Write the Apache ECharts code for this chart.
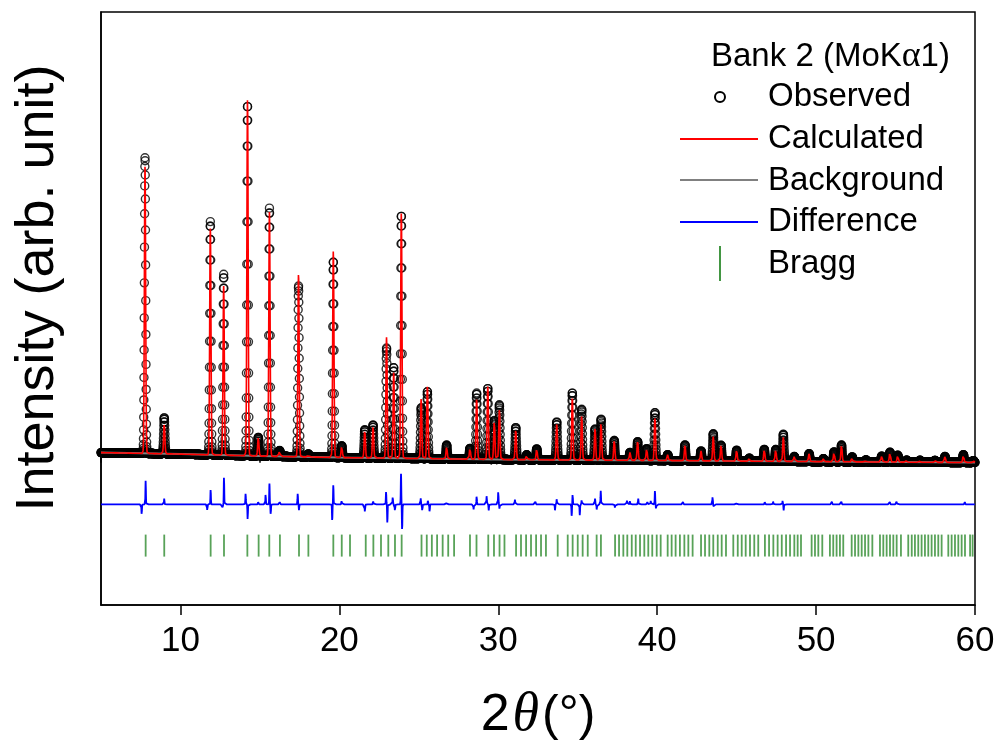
<!DOCTYPE html>
<html><head><meta charset="utf-8">
<script src="https://cdn.jsdelivr.net/npm/echarts@6/dist/echarts.min.js"></script>
<style>html,body{margin:0;padding:0;background:#fff}#c{width:1003px;height:749px}</style>
</head><body><div id="c"></div>
<script>
// ---- data ----
const peakPos  = [7.77,8.98,11.88,12.72,14.22,14.90,15.60,16.24,17.43,18.05,19.62,20.15,21.60,22.12,22.97,23.42,23.90,25.15,25.54,26.75,28.22,28.64,29.34,29.75,30.07,31.10,31.79,32.42,33.68,34.66,35.25,36.09,36.47,37.30,38.29,38.77,39.34,39.86,40.66,41.75,42.76,43.53,44.02,45.00,45.80,46.74,47.46,47.94,48.63,49.56,50.46,51.13,51.60,52.27,53.14,54.13,54.65,55.14,55.70,56.54,57.48,58.11,59.27,59.90];
const peakObs  = [2995,365,2360,1830,3550,190,2510,60,1730,30,1985,120,285,335,1115,920,2460,515,680,140,110,670,720,395,555,325,50,110,385,680,515,315,415,200,80,190,120,485,60,160,100,275,160,110,30,120,120,275,50,80,30,100,170,50,20,60,100,70,20,20,20,60,80,20];
const peakCalc = [2905,305,2290,1710,3615,190,2470,60,1860,30,2095,120,285,335,1225,870,2490,610,730,120,110,615,740,395,505,305,50,110,365,625,455,325,385,200,80,190,120,445,60,160,100,245,160,110,30,120,120,245,50,80,30,100,170,50,20,60,100,70,20,20,20,60,80,20];
const bgX = [5,10,15,20,25,30,40,50,60];
const bgY = [42,27,7,-8,-18,-28,-38,-49,-59];
const diffOffset = -482;
const diffPos = [7.56,7.81,8.98,11.69,11.90,12.66,12.74,14.10,14.23,14.90,15.36,15.60,15.68,16.26,17.38,17.46,19.55,19.62,20.15,21.61,22.14,22.94,23.02,23.36,23.50,23.88,23.95,25.12,25.22,25.58,25.68,26.75,28.45,28.64,29.27,29.40,30.00,30.08,31.05,32.35,33.57,33.68,34.62,34.68,35.13,35.25,36.09,36.20,36.45,37.35,38.10,38.29,38.81,39.40,39.60,39.86,39.93,41.64,43.49,43.55,45.00,46.78,47.30,47.90,47.96,51.00,51.60,54.65,55.07,59.37];
const diffAmp = [-110,240,60,-70,150,-40,280,110,-160,30,110,210,-110,30,110,-60,-170,200,50,-90,40,130,-190,80,-80,310,-270,60,-80,50,-80,30,-50,90,90,-60,140,-50,50,40,-60,60,-120,110,-110,50,60,-60,140,-50,40,40,60,40,40,140,-50,40,90,-30,30,30,30,50,-60,30,30,30,30,30];
const braggLevel = -899;
const braggPos = [7.81,8.98,11.90,12.74,14.21,14.92,15.59,16.26,17.46,18.05,19.62,20.15,20.67,21.66,22.14,22.62,23.08,23.50,23.92,
25.17,25.50,25.82,26.15,26.50,26.85,27.22,28.22,28.63,29.37,29.73,30.08,30.39,31.12,31.43,31.75,32.06,32.38,32.69,33.00,33.74,
34.37,34.68,35.00,35.31,35.63,36.19,36.46,37.35,37.60,37.87,38.12,38.40,38.65,38.92,39.19,39.44,39.69,39.97,40.22,
40.66,40.91,41.16,41.43,41.71,41.96,42.23,42.76,43.01,43.28,43.53,43.81,44.06,44.33,44.79,45.07,45.32,45.57,45.84,46.11,46.36,
46.78,47.04,47.31,47.58,47.84,48.11,48.36,48.63,48.84,49.05,49.72,49.93,50.14,50.39,50.87,51.08,51.29,51.50,51.71,
52.24,52.45,52.66,52.87,53.08,53.29,53.54,54.02,54.23,54.44,54.65,54.86,55.07,55.34,55.80,56.02,56.22,56.43,56.64,56.85,57.06,57.27,57.48,57.69,57.90,
58.32,58.53,58.74,58.95,59.16,59.37,59.69,59.85];
const majorTicks = [10,20,30,40,50,60];
const minorTicks = [5,15,25,35,45,55];

// ---- build profiles from the peak table ----
const STEP = 0.008, SIG = 0.04, DSIG = 0.015;
function bgAt(x){
  for (let i=0;i<bgX.length-1;i++){
    if (x<=bgX[i+1]) { const t=(x-bgX[i])/(bgX[i+1]-bgX[i]); return bgY[i]+t*(bgY[i+1]-bgY[i]); }
  }
  return bgY[bgY.length-1];
}
const obsData=[], calcData=[], diffData=[];
for (let k=0; ; k++){
  const x = 5 + k*STEP; if (x>60.0001) break;
  let o=bgAt(x), c=o, d=diffOffset;
  for (let i=0;i<peakPos.length;i++){
    const dx=x-peakPos[i]; if (Math.abs(dx)>0.35) continue;
    const g=Math.exp(-0.5*(dx/SIG)*(dx/SIG));
    o+=peakObs[i]*g; c+=peakCalc[i]*g;
  }
  for (let i=0;i<diffPos.length;i++){
    const dx=x-diffPos[i]; if (Math.abs(dx)>0.1) continue;
    d+=diffAmp[i]*Math.exp(-0.5*(dx/DSIG)*(dx/DSIG));
  }
  obsData.push([x,o]); calcData.push([x,c]); diffData.push([x,d]);
}

const FONT = "'Liberation Sans', Arial, sans-serif";
const chart = echarts.init(document.getElementById('c'), null, {renderer:'canvas'});
const LX1=680, LX2=758, TX=768, LF="33px "+FONT;
chart.setOption({
  animation:false,
  backgroundColor:'#fff',
  grid:{left:101,right:28,top:12,bottom:144,show:true,borderColor:'#000',borderWidth:1.5,backgroundColor:'transparent'},
  xAxis:[{
    type:'value',min:5,max:60,
    axisLine:{show:true,onZero:false,lineStyle:{color:'#000',width:1.5}},
    axisTick:{show:true,customValues:majorTicks,length:10,lineStyle:{color:'#000',width:1.5}},
    axisLabel:{customValues:majorTicks,fontSize:35,color:'#000',fontFamily:FONT,margin:19},
    splitLine:{show:false},
    name:'{n|2}{t|θ}{p|(°)}',nameLocation:'middle',nameGap:84,
    nameTextStyle:{rich:{
      n:{fontSize:52,fontFamily:FONT,color:'#000'},
      t:{fontSize:54,fontFamily:"'Liberation Serif','Times New Roman',serif",fontStyle:'italic',color:'#000',padding:[0,3,0,3]},
      p:{fontSize:50,fontFamily:FONT,color:'#000'}
    }}
  },{
    type:'value',min:5,max:60,position:'bottom',
    axisLine:{show:false},
    axisTick:{show:true,customValues:minorTicks,length:6,lineStyle:{color:'#000',width:1.5}},
    axisLabel:{show:false},splitLine:{show:false}
  }],
  yAxis:{type:'value',min:-1500,max:4500,
    axisLine:{show:true,lineStyle:{color:'#000',width:1.5}},
    axisTick:{show:false},axisLabel:{show:false},splitLine:{show:false}},
  series:[
    {name:'Observed',type:'scatter',data:obsData,symbol:'circle',symbolSize:8,silent:true,
     large:false,progressive:0,progressiveThreshold:100000,
     itemStyle:{color:'rgba(0,0,0,0)',borderColor:'#000',borderWidth:1.4},z:2},
    {name:'Background',type:'line',data:bgX.map((x,i)=>[x,bgY[i]]),showSymbol:false,silent:true,
     lineStyle:{color:'#808080',width:2},z:3},
    {name:'Calculated',type:'line',data:calcData,showSymbol:false,silent:true,
     lineStyle:{color:'#ff0000',width:1.6},z:4},
    {name:'Difference',type:'line',data:diffData,showSymbol:false,silent:true,
     lineStyle:{color:'#0000ff',width:1.8},z:4},
    {name:'Bragg',type:'scatter',data:braggPos.map(p=>[p,braggLevel]),symbol:'rect',symbolSize:[1.8,22],silent:true,
     itemStyle:{color:'#2e8b2e'},z:4}
  ],
  graphic:[
    {type:'text',rotation:Math.PI/2,x:38,y:288,style:{text:'Intensity (arb. unit)',font:"54px "+FONT,fill:'#000',align:'center',verticalAlign:'middle'}},
    {type:'text',x:711,y:57,style:{text:'Bank 2 (MoK{a|α}1)',font:LF,fill:'#000',verticalAlign:'middle',
      rich:{a:{font:"36px 'Liberation Serif', serif",fill:'#000'}}}},
    {type:'circle',shape:{cx:720,cy:97,r:5},style:{fill:'none',stroke:'#000',lineWidth:2}},
    {type:'text',x:TX,y:97,style:{text:'Observed',font:LF,fill:'#000',verticalAlign:'middle'}},
    {type:'line',shape:{x1:LX1,y1:139,x2:LX2,y2:139},style:{stroke:'#ff0000',lineWidth:2}},
    {type:'text',x:TX,y:139,style:{text:'Calculated',font:LF,fill:'#000',verticalAlign:'middle'}},
    {type:'line',shape:{x1:LX1,y1:180,x2:LX2,y2:180},style:{stroke:'#808080',lineWidth:2}},
    {type:'text',x:TX,y:181,style:{text:'Background',font:LF,fill:'#000',verticalAlign:'middle'}},
    {type:'line',shape:{x1:LX1,y1:222,x2:LX2,y2:222},style:{stroke:'#0000ff',lineWidth:2}},
    {type:'text',x:TX,y:222,style:{text:'Difference',font:LF,fill:'#000',verticalAlign:'middle'}},
    {type:'line',shape:{x1:720,y1:246,x2:720,y2:281},style:{stroke:'#2e8b2e',lineWidth:1.8}},
    {type:'text',x:TX,y:264,style:{text:'Bragg',font:LF,fill:'#000',verticalAlign:'middle'}}
  ]
});
</script></body></html>
